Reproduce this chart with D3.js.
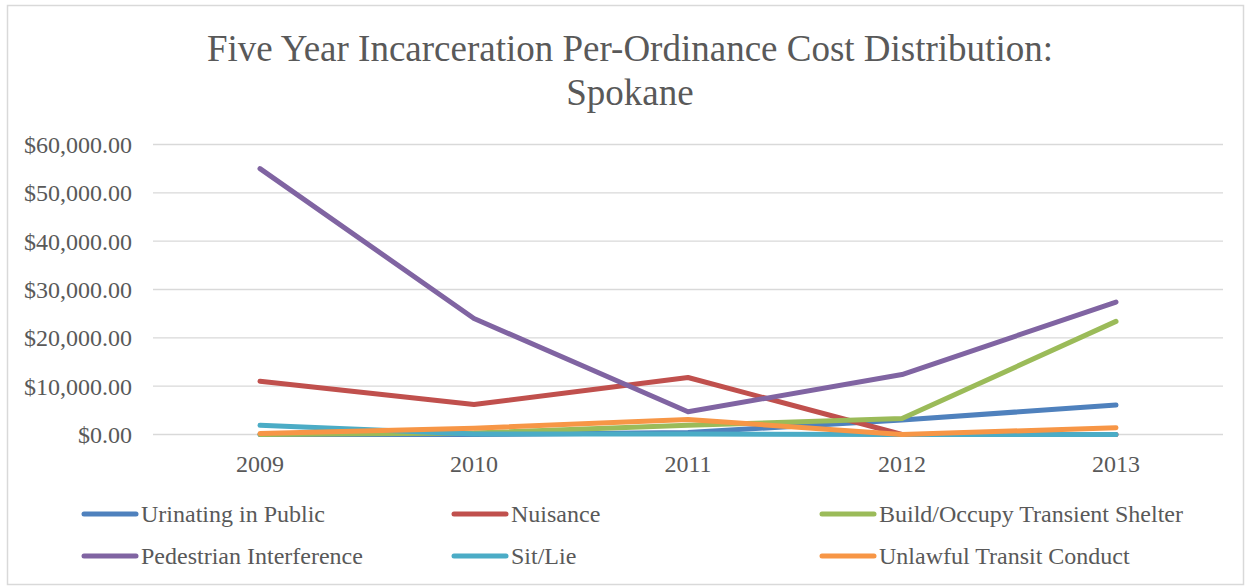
<!DOCTYPE html>
<html>
<head>
<meta charset="utf-8">
<script src="https://cdn.jsdelivr.net/npm/d3@7.9.0/dist/d3.min.js"></script>
<style>
  body { margin: 0; background: #fff; }
  svg text { font-family: "Liberation Serif", "Times New Roman", serif; fill: #595959; }
</style>
</head>
<body>
<svg id="chart" width="1250" height="587"></svg>
<script>
// data
const years = ['2009', '2010', '2011', '2012', '2013'];
const seriesNames = [
  'Urinating in Public', 'Nuisance', 'Build/Occupy Transient Shelter',
  'Pedestrian Interference', 'Sit/Lie', 'Unlawful Transit Conduct'
];
const urinating    = [0, 0, 400, 3000, 6100];
const nuisance     = [11000, 6200, 11800, 0, 0];
const buildShelter = [0, 300, 1900, 3300, 23400];
const pedestrian   = [55000, 24000, 4700, 12400, 27400];
const sitLie       = [1900, 100, 100, 0, 0];
const transit      = [200, 1300, 3100, 0, 1400];
const yTicks = [0, 10000, 20000, 30000, 40000, 50000, 60000];
const colors = ['#4f81bd', '#c0504d', '#9bbb59', '#8064a2', '#4bacc6', '#f79646'];

const values = [urinating, nuisance, buildShelter, pedestrian, sitLie, transit];
const series = seriesNames.map((name, i) => ({ name, color: colors[i], values: values[i] }));

const svg = d3.select('#chart');

// outer chart border
svg.append('rect')
  .attr('x', 7.5).attr('y', 5.5)
  .attr('width', 1236).attr('height', 579)
  .attr('fill', 'none').attr('stroke', '#d9d9d9').attr('stroke-width', 1.5);

// title
const title = svg.append('text')
  .attr('text-anchor', 'middle')
  .style('font-size', '37px');
title.append('tspan').attr('x', 630).attr('y', 61)
  .text('Five Year Incarceration Per-Ordinance Cost Distribution:');
title.append('tspan').attr('x', 630).attr('y', 105).text('Spokane');

const x = d3.scaleBand().domain(years).range([153, 1223]);
const y = d3.scaleLinear().domain([0, 60000]).range([434.5, 144.5]);

// gridlines
svg.append('g')
  .selectAll('line')
  .data(yTicks)
  .join('line')
    .attr('x1', 153).attr('x2', 1223)
    .attr('y1', d => y(d)).attr('y2', d => y(d))
    .attr('stroke', '#d9d9d9').attr('stroke-width', 1.4);

const fmt = d3.format('$,.2f');
svg.append('g')
  .selectAll('text')
  .data(yTicks)
  .join('text')
    .attr('x', 132)
    .attr('y', d => y(d) + 8.5)
    .attr('text-anchor', 'end')
    .style('font-size', '24px')
    .text(d => fmt(d));

svg.append('g')
  .selectAll('text')
  .data(years)
  .join('text')
    .attr('x', d => x(d) + x.bandwidth() / 2)
    .attr('y', 472)
    .attr('text-anchor', 'middle')
    .style('font-size', '24px')
    .text(d => d);

const line = d3.line()
  .x((d, i) => x(years[i]) + x.bandwidth() / 2)
  .y(d => y(d));

svg.append('g')
  .selectAll('path')
  .data(series)
  .join('path')
    .attr('d', d => line(d.values))
    .attr('fill', 'none')
    .attr('stroke', d => d.color)
    .attr('stroke-width', 5)
    .attr('stroke-linecap', 'round')
    .attr('stroke-linejoin', 'round');

// legend, three columns by two rows
const legendCols = [141, 511, 879];
const legendRows = [514, 556];
const legend = svg.append('g')
  .selectAll('g')
  .data(series)
  .join('g')
    .attr('transform', (d, i) => `translate(${legendCols[i % 3]}, ${legendRows[Math.floor(i / 3)]})`);

legend.append('line')
  .attr('x1', -57).attr('x2', -5)
  .attr('stroke', d => d.color)
  .attr('stroke-width', 5)
  .attr('stroke-linecap', 'round');

legend.append('text')
  .attr('x', 0).attr('y', 8)
  .style('font-size', '24px')
  .text(d => d.name);
</script>
</body>
</html>
